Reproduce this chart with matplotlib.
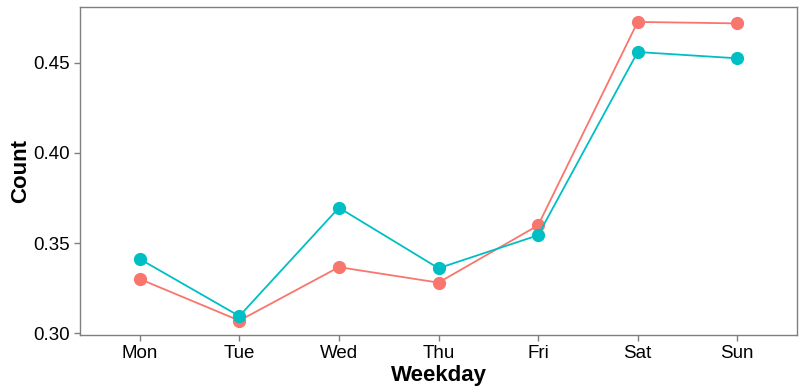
import numpy as np
import matplotlib.pyplot as plt

plt.rcParams['font.family'] = ['Liberation Sans', 'DejaVu Sans']

days = ['Mon', 'Tue', 'Wed', 'Thu', 'Fri', 'Sat', 'Sun']
red_vals = [0.3300, 0.3069, 0.3366, 0.3280, 0.3598, 0.4728, 0.4720]
teal_vals = [0.3411, 0.3094, 0.3696, 0.3360, 0.3543, 0.4561, 0.4526]

fig = plt.figure(figsize=(8.06, 3.92), dpi=100)
ax = fig.add_axes([80/806, 57/392, 717/806, 328/392])

x = np.arange(len(days))
ax.plot(x, red_vals, color='#F8766D', lw=1.3, marker='o', ms=8.5, zorder=3)
ax.plot(x, teal_vals, color='#00BFC4', lw=1.3, marker='o', ms=8.5, zorder=4)

ax.set_xlim(-0.6, 6.6)
ax.set_ylim(0.2989, 0.4811)
ax.set_xticks(x)
ax.set_xticklabels(days)
ax.set_yticks([0.30, 0.35, 0.40, 0.45])
ax.set_yticklabels(['0.30', '0.35', '0.40', '0.45'])

for s in ax.spines.values():
    s.set_color('#7f7f7f')
    s.set_linewidth(1.0)
ax.tick_params(axis='both', colors='#7f7f7f', length=4, width=1, labelsize=13.5,
               labelcolor='black', pad=3)

ax.set_xlabel('Weekday', fontsize=16, fontweight='bold', labelpad=2)
ax.set_ylabel('Count', fontsize=16, fontweight='bold', labelpad=2)

fig.savefig('out.png', dpi=100)
